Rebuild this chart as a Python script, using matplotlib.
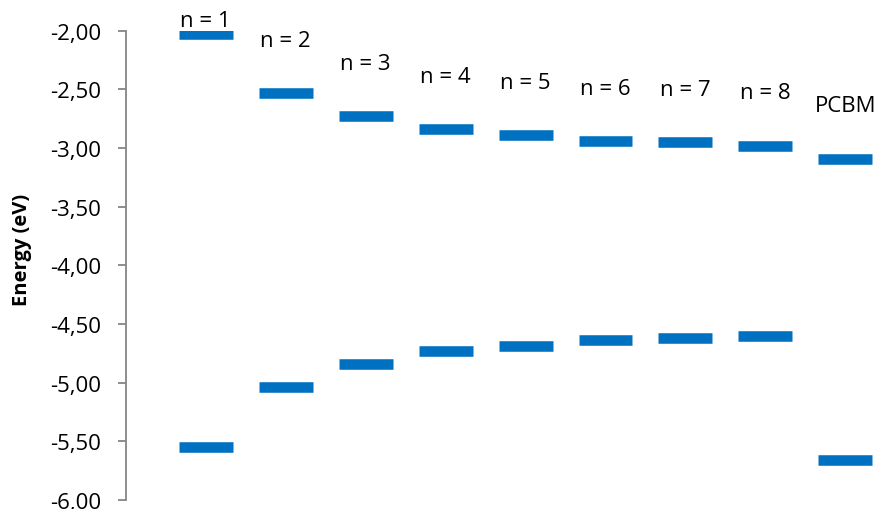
import matplotlib
matplotlib.use("Agg")
import matplotlib.pyplot as plt
from matplotlib.ticker import FuncFormatter, MultipleLocator

# energy levels (eV)
labels = ["n = 1", "n = 2", "n = 3", "n = 4", "n = 5", "n = 6", "n = 7", "n = 8", "PCBM"]
lumo = [-2.03, -2.53, -2.73, -2.84, -2.89, -2.94, -2.95, -2.98, -3.09]
homo = [-5.55, -5.04, -4.84, -4.73, -4.69, -4.64, -4.62, -4.60, -5.66]

plt.rcParams['font.family'] = ['Open Sans', 'DejaVu Sans']
blue = '#0070C0'
grey = '#868686'

fig = plt.figure(figsize=(8.79, 5.10), dpi=100)
ax = fig.add_axes([0.143, 0.0176, 0.857, 0.9202])

x = list(range(1, len(labels) + 1))
half = 0.3375
ax.hlines(lumo, [i - half for i in x], [i + half for i in x], colors=blue,
          linewidth=7.6, capstyle='butt')
ax.hlines(homo, [i - half for i in x], [i + half for i in x], colors=blue,
          linewidth=7.6, capstyle='butt')

# label above each LUMO level (first one squeezed in under the top edge)
offsets = [10, 38, 38, 38, 38, 38, 38, 38, 38]
for xi, yi, lab, off in zip(x, lumo, labels, offsets):
    ax.annotate(lab, (xi, yi), xytext=(0, off), textcoords='offset points',
                ha='center', va='center', fontsize=16, annotation_clip=False)

ax.set_xlim(0, 9.42)
ax.set_ylim(-6.0, -2.0)
ax.yaxis.set_major_locator(MultipleLocator(0.5))
ax.yaxis.set_major_formatter(FuncFormatter(lambda v, p: f"{v:.2f}".replace('.', ',')))
ax.tick_params(axis='y', length=5.8, width=1.3, color=grey, pad=12, labelsize=16)
ax.set_xticks([])

for s in ['top', 'right', 'bottom']:
    ax.spines[s].set_visible(False)
ax.spines['left'].set_color(grey)
ax.spines['left'].set_linewidth(1.3)

fig.text(22 / 879, 1 - 250 / 510, 'Energy (eV)', rotation=90, ha='center', va='center',
         fontsize=14.5, fontweight='bold')

fig.savefig('out.png', dpi=100)
